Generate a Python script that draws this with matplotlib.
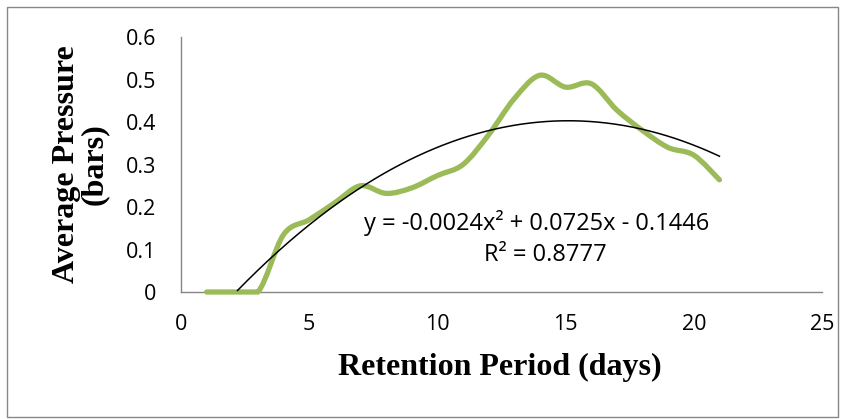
import numpy as np
import matplotlib
matplotlib.use("Agg")
import matplotlib.pyplot as plt
from matplotlib.path import Path
from matplotlib.patches import PathPatch, Rectangle

# ---- data ----
days = [1, 2, 3, 4, 5, 6, 7, 8, 9, 10, 11, 12, 13, 14, 15, 16, 17, 18, 19, 20, 21]
pressure = [0.0, 0.0, 0.0, 0.135, 0.17, 0.21, 0.25, 0.232, 0.245, 0.274, 0.30, 0.37,
            0.455, 0.51, 0.482, 0.49, 0.428, 0.38, 0.34, 0.322, 0.264]
coef = [-0.0024, 0.0725, -0.1446]   # quadratic trendline a, b, c
eq_text = "y = -0.0024x\u00b2 + 0.0725x - 0.1446"
r2_text = "R\u00b2 = 0.8777"
xticks = [0, 5, 10, 15, 20, 25]
yticks = [0, 0.1, 0.2, 0.3, 0.4, 0.5, 0.6]
ytick_labels = ["0", "0.1", "0.2", "0.3", "0.4", "0.5", "0.6"]
xlabel = "Retention Period (days)"
ylabel = "Average Pressure\n(bars)"

W, H = 846, 419
fig = plt.figure(figsize=(W / 100, H / 100), dpi=100)
ax = fig.add_axes([181 / W, 1 - 292 / H, (822 - 181) / W, (292 - 37) / H])

# smoothed line (Catmull-Rom as cubic Bezier segments)
pts = np.column_stack([days, pressure]).astype(float)
ymin = min(pressure)
verts = [tuple(pts[0])]
codes = [Path.MOVETO]
n = len(pts)
for i in range(n - 1):
    p0 = pts[i - 1] if i > 0 else pts[i]
    p1 = pts[i]
    p2 = pts[i + 1]
    p3 = pts[i + 2] if i + 2 < n else pts[i + 1]
    c1 = p1 + (p2 - p0) / 6.0
    c2 = p2 - (p3 - p1) / 6.0
    c1[1] = max(c1[1], ymin)
    c2[1] = max(c2[1], ymin)
    verts += [tuple(c1), tuple(c2), tuple(p2)]
    codes += [Path.CURVE4] * 3
green = PathPatch(Path(verts, codes), facecolor="none", edgecolor="#9BBB59",
                  lw=3.8, capstyle="round", joinstyle="round", clip_on=False, zorder=3)
ax.add_patch(green)

# trendline
xt = np.linspace(days[0], days[-1], 300)
yt = np.polyval(coef, xt)
mask = yt >= 0
ax.plot(xt[mask], yt[mask], color="black", lw=1.1, zorder=4)

ax.set_xlim(0, 25)
ax.set_ylim(0, 0.6)
ax.set_xticks(xticks)
ax.set_yticks(yticks)
ax.set_yticklabels(ytick_labels)
for s in ["top", "right"]:
    ax.spines[s].set_visible(False)
for s in ["left", "bottom"]:
    ax.spines[s].set_color("#868686")
    ax.spines[s].set_linewidth(1.0)
ax.tick_params(axis="both", length=0, labelsize=15.5, colors="black")
ax.tick_params(axis="x", pad=16)
ax.tick_params(axis="y", pad=18)
for lab in ax.get_xticklabels() + ax.get_yticklabels():
    lab.set_family("Open Sans")

fig.text(500 / W, 1 - 367 / H, xlabel, ha="center", va="center",
         family="Liberation Serif", weight="bold", fontsize=23)
fig.text(80 / W, 1 - 164 / H, ylabel, ha="center", va="center", rotation=90,
         family="Liberation Serif", weight="bold", fontsize=23, linespacing=0.95)

fig.text(537 / W, 1 - 223 / H, eq_text, ha="center", va="center",
         family="Open Sans", fontsize=17)
fig.text(545 / W, 1 - 255 / H, r2_text, ha="center", va="center",
         family="Open Sans", fontsize=17)

fig.patches.append(Rectangle((7 / W, 2 / H), 831 / W, 410 / H, transform=fig.transFigure,
                             fill=False, edgecolor="#878787", lw=1.0))

fig.savefig("out.png", dpi=100)
